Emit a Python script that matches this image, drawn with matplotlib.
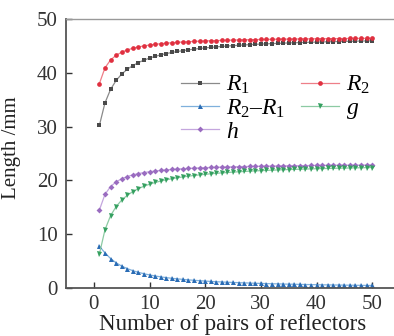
import matplotlib
matplotlib.use("Agg")
import matplotlib.pyplot as plt
import numpy as np

n = list(range(1, 51))
R1 = [30.23, 34.40, 36.90, 38.57, 39.76, 40.65, 41.34, 41.90, 42.35, 42.73,
      43.05, 43.33, 43.57, 43.78, 43.96, 44.12, 44.27, 44.40, 44.52, 44.63,
      44.73, 44.82, 44.90, 44.98, 45.05, 45.11, 45.18, 45.23, 45.29, 45.34,
      45.38, 45.43, 45.47, 45.51, 45.55, 45.58, 45.62, 45.65, 45.68, 45.71,
      45.74, 45.76, 45.79, 45.81, 45.84, 45.86, 45.88, 45.90, 45.92, 45.94]
R2 = [38.00, 40.92, 42.38, 43.25, 43.83, 44.25, 44.56, 44.81, 45.00, 45.16,
      45.29, 45.40, 45.50, 45.58, 45.66, 45.72, 45.78, 45.83, 45.88, 45.92,
      45.95, 45.99, 46.02, 46.05, 46.08, 46.10, 46.13, 46.15, 46.17, 46.19,
      46.20, 46.22, 46.24, 46.25, 46.26, 46.28, 46.29, 46.30, 46.31, 46.32,
      46.33, 46.34, 46.35, 46.36, 46.37, 46.38, 46.39, 46.39, 46.40, 46.41]
h = [14.50, 17.40, 18.85, 19.72, 20.30, 20.71, 21.03, 21.27, 21.46, 21.62,
     21.75, 21.86, 21.96, 22.04, 22.11, 22.18, 22.23, 22.28, 22.33, 22.37,
     22.41, 22.44, 22.48, 22.50, 22.53, 22.56, 22.58, 22.60, 22.62, 22.64,
     22.66, 22.67, 22.69, 22.70, 22.72, 22.73, 22.74, 22.75, 22.77, 22.78,
     22.79, 22.80, 22.80, 22.81, 22.82, 22.83, 22.84, 22.84, 22.85, 22.86]
g = [6.32, 10.81, 13.43, 15.13, 16.34, 17.23, 17.92, 18.47, 18.92, 19.29,
     19.61, 19.88, 20.11, 20.31, 20.49, 20.65, 20.79, 20.91, 21.03, 21.13,
     21.23, 21.32, 21.40, 21.47, 21.54, 21.60, 21.66, 21.72, 21.77, 21.81,
     21.86, 21.90, 21.94, 21.98, 22.02, 22.05, 22.08, 22.11, 22.14, 22.17,
     22.20, 22.22, 22.25, 22.27, 22.29, 22.31, 22.33, 22.35, 22.37, 22.39]
diff = [b - a for a, b in zip(R1, R2)]

xticks = [0, 10, 20, 30, 40, 50]
yticks = [0, 10, 20, 30, 40, 50]

plt.rcParams['font.family'] = ['Liberation Serif', 'DejaVu Serif']
plt.rcParams['mathtext.fontset'] = 'custom'
plt.rcParams['mathtext.rm'] = 'Liberation Serif'
plt.rcParams['mathtext.it'] = 'Liberation Serif:italic'

fig = plt.figure(figsize=(3.94, 3.36), dpi=100)
ax = fig.add_axes([66/394, 1-288/336, (400-66)/394, (288-19)/336])

series = [
    (R1, r'$R_1$', '#4a4a4a', '#8a8a8a', 's', 3.2),
    (diff, r'$R_2$–$R_1$', '#2a6cb5', '#7fb0dc', '^', 3.6),
    (h, r'$h$', '#9a6cc0', '#c4a6de', 'D', 3.0),
    (R2, r'$R_2$', '#e03040', '#ee7f88', 'o', 3.4),
    (g, r'$g$', '#35a060', '#8ccaa3', 'v', 3.6),
]
for ys, lab, mc, lc, mk, ms in series:
    ax.plot(n, ys, color=lc, lw=0.9, marker=mk, ms=ms, mfc=mc, mec=mc,
            mew=0, label=lab)

ax.set_xlim(-5, 55)
ax.set_ylim(0, 50)
ax.set_xticks(xticks)
ax.set_yticks(yticks)
ax.tick_params(direction='in', length=4, width=1, labelsize=15, colors='#333333')
ax.tick_params(axis='x', pad=5)
ax.tick_params(axis='y', pad=6)
for s in ['left', 'bottom']:
    ax.spines[s].set_color('#555555')
    ax.spines[s].set_linewidth(1.3)
ax.spines['top'].set_color('#999999')
ax.spines['top'].set_linewidth(1.0)
ax.spines['right'].set_visible(False)

ax.set_xlabel('Number of pairs of reflectors', fontsize=16.5, labelpad=0, color='#222222')
ax.set_ylabel('Length /mm', fontsize=15, labelpad=3, color='#222222')
ax.yaxis.set_label_coords(-0.135, 0.52)

leg = ax.legend(ncol=2, frameon=False, fontsize=17, loc='upper left',
                bbox_to_anchor=(0.344, 0.795), handlelength=1.6,
                labelspacing=0.05, columnspacing=0.7, handletextpad=0.3,
                borderaxespad=0, borderpad=0)

fig.savefig('out.png', dpi=100)
